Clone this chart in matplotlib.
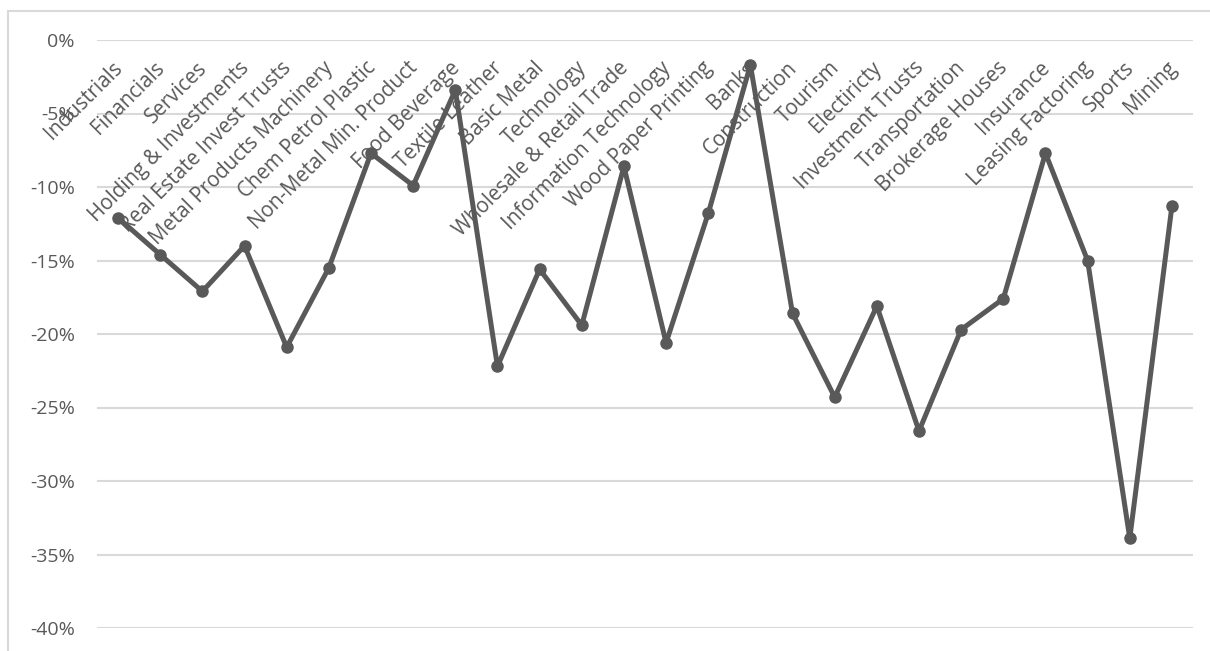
import matplotlib.pyplot as plt
from matplotlib.patches import Rectangle
from matplotlib.ticker import FuncFormatter

sectors = ['Industrials', 'Financials', 'Services', 'Holding & Investments',
           'Real Estate Invest Trusts', 'Metal Products Machinery',
           'Chem Petrol Plastic', 'Non-Metal Min. Product', 'Food Beverage',
           'Textile Leather', 'Basic Metal', 'Technology',
           'Wholesale & Retail Trade', 'Information Technology',
           'Wood Paper Printing', 'Banks', 'Construction', 'Tourism',
           'Electiricty', 'Investment Trusts', 'Transportation',
           'Brokerage Houses', 'Insurance', 'Leasing Factoring', 'Sports',
           'Mining']
returns = [-12.1, -14.6, -17.1, -14.0, -20.9, -15.5, -7.7, -9.9, -3.4, -22.2,
           -15.6, -19.4, -8.6, -20.6, -11.8, -1.7, -18.6, -24.3, -18.1, -26.6,
           -19.7, -17.6, -7.7, -15.0, -33.9, -11.3]
y_ticks = [0, -5, -10, -15, -20, -25, -30, -35, -40]

grey = '#595959'
plt.rcParams['font.family'] = ['Open Sans', 'DejaVu Sans']

fig = plt.figure(figsize=(12.1, 6.51), dpi=100)
# chart frame (cut off at right and bottom like the reference)
fig.patches.append(Rectangle((8 / 1210, -0.1), 1.2, (651 - 11) / 651 + 0.1,
                             transform=fig.transFigure, fill=False,
                             edgecolor='#d9d9d9', linewidth=1.5))

ax = fig.add_axes([97 / 1210, 23 / 651, (1193 - 97) / 1210, (628 - 40) / 651])
x = list(range(len(sectors)))
ax.plot(x, returns, color=grey, linewidth=3.6, marker='o', markersize=8,
        solid_joinstyle='round', solid_capstyle='round')

ax.set_xlim(-0.5, len(sectors) - 0.5)
ax.set_ylim(-40, 0)
ax.set_yticks(y_ticks)
ax.yaxis.set_major_formatter(FuncFormatter(lambda v, p: f'{v:.0f}%'))
ax.tick_params(axis='y', length=0, pad=16, labelsize=14, labelcolor=grey)
ax.set_xticks([])
ax.grid(axis='y', color='#d9d9d9', linewidth=1.5)
ax.set_axisbelow(True)
for s in ax.spines.values():
    s.set_visible(False)

for i, name in enumerate(sectors):
    ax.annotate(name, xy=(i, 0), xytext=(1, -18), textcoords='offset points',
                rotation=45, rotation_mode='anchor', ha='right', va='center',
                fontsize=14.8, color=grey, annotation_clip=False)

plt.savefig('out.png', dpi=100)
